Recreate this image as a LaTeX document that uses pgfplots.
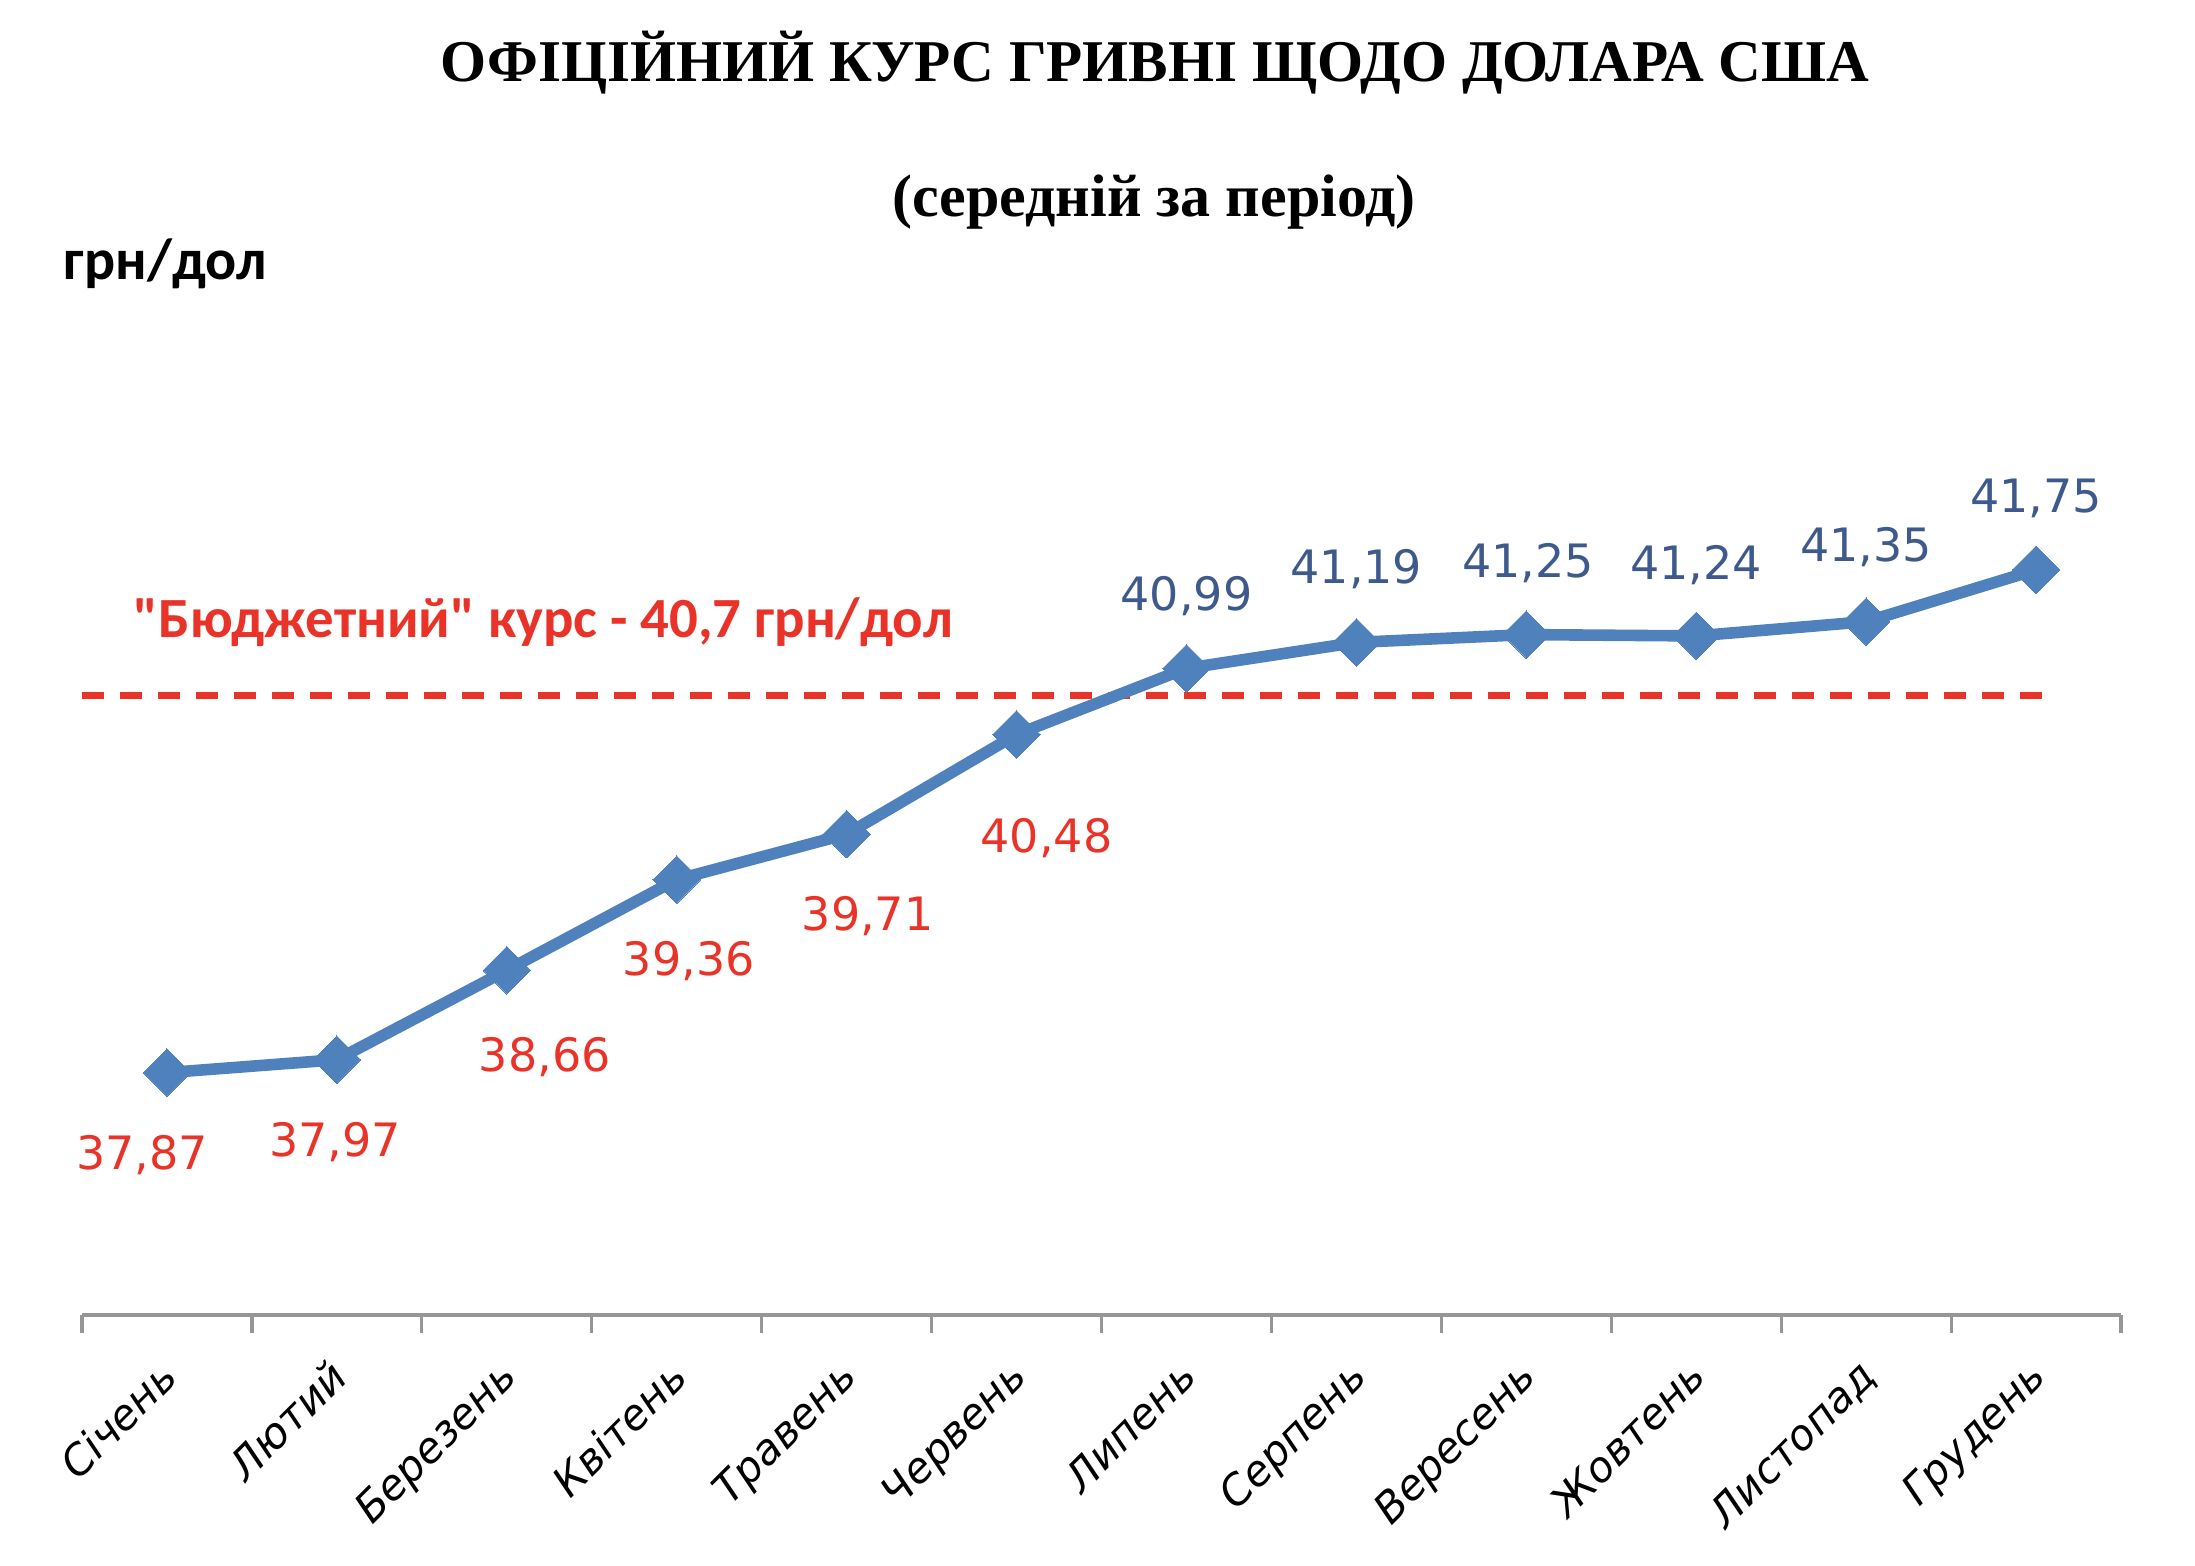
\documentclass[border=0pt]{standalone}
\usepackage{pgfplots}
\usepackage{pgfplotstable}
\pgfplotsset{compat=1.18}
\usepackage{fontspec}
\setmainfont{Liberation Serif}
\newfontfamily\dejavu{DejaVu Sans}
\newfontfamily\carlito{Carlito}
\definecolor{lineblue}{RGB}{79,129,189}
\definecolor{lblblue}{RGB}{62,90,140}
\definecolor{myred}{RGB}{234,51,40}
\definecolor{axgray}{RGB}{150,150,150}

\pgfplotstableread{
x y
0 37.87
1 37.97
2 38.66
3 39.36
4 39.71
5 40.48
6 40.99
7 41.19
8 41.25
9 41.24
10 41.35
11 41.75
}\rates

\pgfplotstableread{
x y dx dy lab
0 37.87 -6.25 -24.25 37,87
1 37.97 -0.5 -24.25 37,97
2 38.66 9.5 -25.25 38,66
3 39.36 3 -24.1 39,36
4 39.71 5.25 -24 39,71
5 40.48 7.5 -29.6 40,48
}\lowlab

\pgfplotstableread{
x y dx dy lab
6 40.99 0 14.5 40,99
7 41.19 0 14.75 41,19
8 41.25 0.5 14.4 41,25
9 41.24 0 14 41,24
10 41.35 0 15 41,35
11 41.75 0 14.25 41,75
}\highlab

\begin{document}
\begin{tikzpicture}
\path[use as bounding box] (-20.5pt,-62.5pt) rectangle (528.25pt,328.75pt);
\begin{axis}[
  at={(0pt,0pt)}, anchor=south west,
  scale only axis, width=509.75pt, height=210.6pt,
  xmin=-0.5, xmax=11.5, ymin=36, ymax=42.5,
  clip=false,
  axis x line=bottom, axis y line=none,
  x axis line style={-, draw=axgray, line width=1pt},
  xtick={0,...,11},
  xticklabels={Січень,Лютий,Березень,Квітень,Травень,Червень,Липень,Серпень,Вересень,Жовтень,Листопад,Грудень},
  major tick length=0pt,
  minor xtick={-0.5,0.5,...,11.5},
  minor tick length=4.5pt,
  xtick align=outside,
  tick style={draw=axgray, line width=0.8pt},
  xticklabel style={font=\dejavu\itshape\fontsize{10.5}{12}\selectfont, xshift=-2.4pt, yshift=-10.3pt, rotate=45, anchor=north east, inner sep=0pt},
]
\addplot[myred, line width=1.75pt, dash pattern=on 5.5pt off 4pt] coordinates {(-0.5,40.78) (11.04,40.78)};
\addplot[lineblue, line width=2.9pt, mark=square*, mark size=4.2pt, mark options={rotate=45, fill=lineblue, draw=lineblue, line width=0pt, solid}] table[x=x,y=y]{\rates};
\addplot[draw=none, mark=none,
  point meta=explicit symbolic,
  visualization depends on={\thisrow{dx}\as\dx},
  visualization depends on={\thisrow{dy}\as\dy},
  nodes near coords={\pgfplotspointmeta},
  every node near coord/.append style={anchor=base, inner sep=0pt, xshift=\dx, yshift=\dy, text=myred, font=\dejavu\fontsize{11.5}{13}\selectfont}
] table[x=x,y=y,meta=lab]{\lowlab};
\addplot[draw=none, mark=none,
  point meta=explicit symbolic,
  visualization depends on={\thisrow{dx}\as\dx},
  visualization depends on={\thisrow{dy}\as\dy},
  nodes near coords={\pgfplotspointmeta},
  every node near coord/.append style={anchor=base, inner sep=0pt, xshift=\dx, yshift=\dy, text=lblblue, font=\dejavu\fontsize{11.5}{13}\selectfont}
] table[x=x,y=y,meta=lab]{\highlab};
\end{axis}
\node[anchor=base, inner sep=0pt, font=\bfseries\fontsize{14.8}{18}\selectfont] at (268.25pt,308.25pt) {ОФІЦІЙНИЙ КУРС ГРИВНІ ЩОДО ДОЛАРА США};
\node[anchor=base, inner sep=0pt, font=\bfseries\fontsize{15}{18}\selectfont] at (268pt,274.5pt) {(середній за період)};
\node[anchor=base west, inner sep=0pt, font=\carlito\bfseries\fontsize{14.5}{17}\selectfont] at (-4.75pt,258.75pt) {грн/дол};
\node[anchor=base west, inner sep=0pt, text=myred, font=\carlito\bfseries\fontsize{14.2}{17}\selectfont] at (12.75pt,169.25pt) {"Бюджетний" курс - 40,7 грн/дол};
\end{tikzpicture}
\end{document}
